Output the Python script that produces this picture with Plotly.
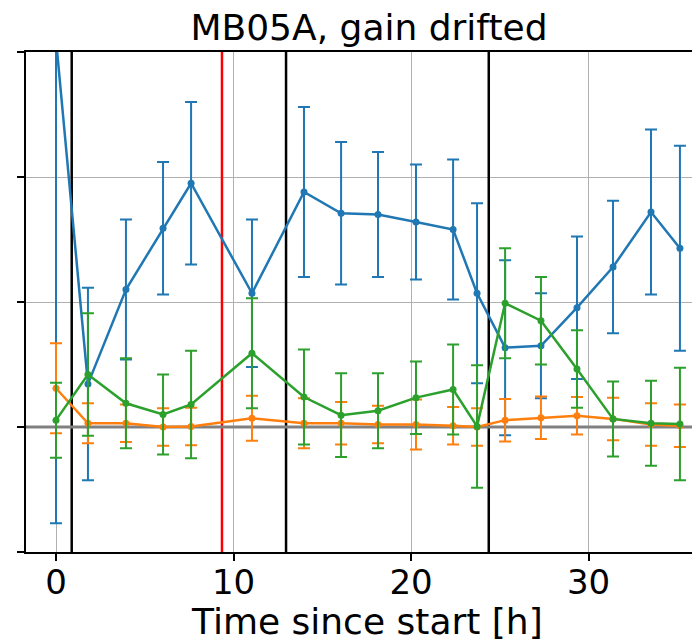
import plotly.graph_objects as go

# ---- data ----
time_h = [0.0, 1.8, 3.94, 6.03, 7.61, 11.04, 13.97, 16.06, 18.14, 20.28,
          22.37, 23.72, 25.3, 27.32, 29.35, 31.38, 33.52, 35.15]

blue = [3.1, 0.345, 1.10, 1.59, 1.95, 1.07, 1.88, 1.71, 1.70, 1.64,
        1.58, 1.07, 0.635, 0.65, 0.955, 1.28, 1.72, 1.43]
blue_err = [3.87, 0.77, 0.56, 0.53, 0.65, 0.59, 0.68, 0.57, 0.50, 0.46,
            0.56, 0.72, 0.70, 0.42, 0.57, 0.53, 0.66, 0.82]

orange = [0.31, 0.03, 0.03, 0.0, 0.005, 0.07, 0.03, 0.03, 0.02, 0.02,
          0.01, 0.0, 0.055, 0.075, 0.09, 0.065, 0.02, 0.01]
orange_err = [0.36, 0.16, 0.15, 0.15, 0.15, 0.18, 0.20, 0.17, 0.15, 0.20,
              0.15, 0.15, 0.17, 0.17, 0.15, 0.17, 0.17, 0.17]

green = [0.055, 0.42, 0.19, 0.10, 0.18, 0.59, 0.24, 0.095, 0.13, 0.235,
         0.30, 0.005, 0.99, 0.85, 0.465, 0.065, 0.03, 0.025]
green_err = [0.30, 0.49, 0.36, 0.32, 0.43, 0.44, 0.38, 0.335, 0.30, 0.29,
             0.36, 0.49, 0.44, 0.35, 0.31, 0.30, 0.34, 0.45]

black_lines = [0.885, 12.96, 24.38]
red_lines = [9.35]
x_ticks = [0, 10, 20, 30]
y_ticks = [-1, 0, 1, 2, 3]

FONT = "DejaVu Sans"

fig = go.Figure()

# vertical event lines
for xv in black_lines:
    fig.add_trace(go.Scatter(x=[xv, xv], y=[-1, 3], mode="lines",
                             line=dict(color="black", width=2.5),
                             showlegend=False, hoverinfo="skip"))
for xv in red_lines:
    fig.add_trace(go.Scatter(x=[xv, xv], y=[-1, 3], mode="lines",
                             line=dict(color="red", width=2.5),
                             showlegend=False, hoverinfo="skip"))

# zero reference line
fig.add_trace(go.Scatter(x=[-1.69, 36.28], y=[0, 0], mode="lines",
                         line=dict(color="#808080", width=3),
                         showlegend=False, hoverinfo="skip"))

for ys, es, col in [(blue, blue_err, "#1f77b4"),
                    (orange, orange_err, "#ff7f0e"),
                    (green, green_err, "#2ca02c")]:
    fig.add_trace(go.Scatter(
        x=time_h, y=ys, mode="lines+markers",
        line=dict(color=col, width=2.5),
        marker=dict(color=col, size=7),
        error_y=dict(type="data", array=es, visible=True,
                     color=col, thickness=2, width=6),
        showlegend=False))

# page body has an 8px margin: figure origin sits at (8, 8) in the screenshot
fig.update_layout(
    width=700, height=643,
    margin=dict(l=18, r=8, t=44, b=99, autoexpand=False),
    paper_bgcolor="white", plot_bgcolor="white",
    font=dict(family=FONT, color="black"),
    title=dict(text="MB05A, gain drifted", font=dict(size=36, family=FONT),
               x=(361 - 18) / 674, xref="paper", xanchor="center",
               y=1 - 19 / 643, yref="container", yanchor="middle"),
    annotations=[dict(text="Time since start [h]", xref="paper", yref="paper",
                      x=(359 - 18) / 674, y=-(621 - 552) / 500,
                      xanchor="center", yanchor="middle", showarrow=False,
                      font=dict(size=36, family=FONT))],
)
fig.update_xaxes(
    range=[-1.69, 36.28], tickvals=x_ticks, automargin=False,
    ticks="outside", ticklen=7, tickwidth=1.5, tickcolor="black",
    tickfont=dict(size=34, family=FONT), ticklabelstandoff=-8,
    showgrid=True, gridcolor="#b0b0b0", gridwidth=1,
    showline=True, linecolor="black", linewidth=1.5, mirror=True,
    zeroline=False,
)
fig.update_yaxes(
    range=[-1, 3], tickvals=y_ticks, showticklabels=False, automargin=False,
    ticks="outside", ticklen=7, tickwidth=1.5, tickcolor="black",
    showgrid=True, gridcolor="#b0b0b0", gridwidth=1,
    showline=True, linecolor="black", linewidth=1.5,
    zeroline=False,
)

fig.write_html("out.html")
